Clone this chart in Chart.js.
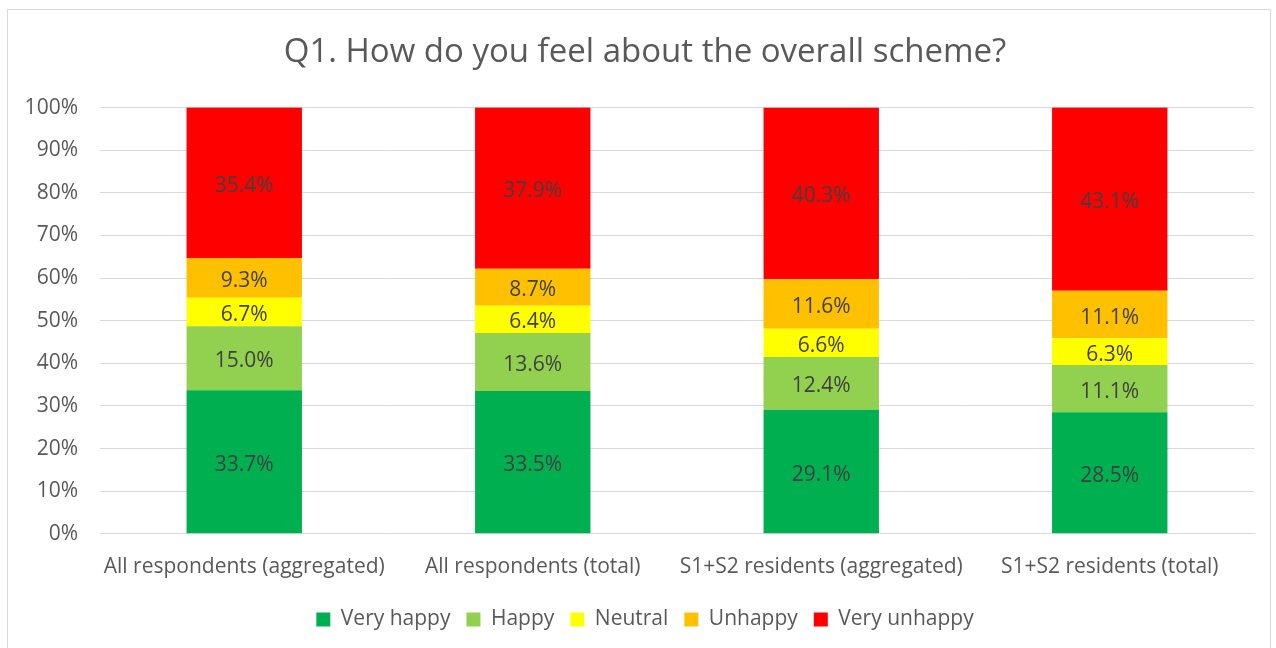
<!DOCTYPE html>
<html>
<head>
<meta charset="utf-8">
<script src="https://cdn.jsdelivr.net/npm/chart.js@4/dist/chart.umd.min.js"></script>
<style>
  html, body { margin: 0; padding: 0; background: #fff; }
  #wrap { position: relative; width: 1276px; height: 648px; }
  #frame { position: absolute; left: 7px; top: 9px; width: 1264px; height: 640px; border: 1px solid #d9d9d9; box-sizing: border-box; }
  canvas { position: absolute; left: 0; top: 0; }
</style>
</head>
<body>
<div id="wrap">
  <div id="frame"></div>
  <canvas id="myChart" width="1276" height="648"></canvas>
</div>
<script>
const categories = ['All respondents (aggregated)', 'All respondents (total)', 'S1+S2 residents (aggregated)', 'S1+S2 residents (total)'];
const veryHappy = [33.7, 33.5, 29.1, 28.5];
const happy = [15.0, 13.6, 12.4, 11.1];
const neutral = [6.7, 6.4, 6.6, 6.3];
const unhappy = [9.3, 8.7, 11.6, 11.1];
const veryUnhappy = [35.4, 37.9, 40.3, 43.1];
const yTicks = [0, 10, 20, 30, 40, 50, 60, 70, 80, 90, 100];

const FONT = '"Open Sans"';

// 막대 가운데에 값 표시
const barLabels = {
    id: 'barLabels',
    afterDatasetsDraw(chart) {
        const c = chart.ctx;
        c.save();
        c.font = '21px ' + FONT;
        c.fillStyle = '#404040';
        c.textAlign = 'center';
        c.textBaseline = 'middle';
        chart.data.datasets.forEach((ds, i) => {
            chart.getDatasetMeta(i).data.forEach((el, j) => {
                const p = el.getCenterPoint();
                c.fillText(ds.data[j].toFixed(1) + '%', p.x, p.y + 3);
            });
        });
        c.restore();
    }
};

// 제목/범례를 테두리 가운데 쪽으로 조금 이동
const centerShift = {
    id: 'centerShift',
    afterLayout(chart) {
        [chart.titleBlock, chart.legend].forEach(b => {
            if (b) { b.left += 18; b.right += 18; }
        });
    }
};

const ctx = document.getElementById('myChart').getContext('2d');
const myChart = new Chart(ctx, {
    type: 'bar',
    data: {
        labels: categories,
        datasets: [
            { label: 'Very happy', data: veryHappy, backgroundColor: '#00B050' },
            { label: 'Happy', data: happy, backgroundColor: '#92D050' },
            { label: 'Neutral', data: neutral, backgroundColor: '#FFFF00' },
            { label: 'Unhappy', data: unhappy, backgroundColor: '#FFC000' },
            { label: 'Very unhappy', data: veryUnhappy, backgroundColor: '#FF0000' }
        ]
    },
    options: {
        responsive: false,
        animation: false,
        layout: { padding: { left: 0, right: 22, top: 18, bottom: 8 } },
        datasets: { bar: { categoryPercentage: 1, barPercentage: 0.4 } },
        plugins: {
            title: {
                display: true,
                text: 'Q1. How do you feel about the overall scheme?',
                color: '#595959',
                font: { family: FONT, size: 33, weight: 'normal' },
                padding: { top: 15, bottom: 35 }
            },
            legend: {
                position: 'bottom',
                labels: {
                    color: '#595959',
                    font: { family: FONT, size: 21 },
                    boxWidth: 14,
                    boxHeight: 14,
                    padding: 16
                }
            },
            tooltip: { enabled: false }
        },
        scales: {
            x: {
                stacked: true,
                grid: { display: false },
                border: { display: true, color: '#d9d9d9' },
                ticks: { color: '#595959', font: { family: FONT, size: 21 }, padding: 13, maxRotation: 0 }
            },
            y: {
                stacked: true,
                min: 0,
                max: 100,
                afterFit(scale) { scale.width = 100; },
                afterBuildTicks(scale) { scale.ticks = yTicks.map(v => ({ value: v })); },
                grid: { color: '#d9d9d9', drawTicks: false },
                border: { display: false },
                ticks: { color: '#595959', font: { family: FONT, size: 21 }, padding: 22, callback: v => v + '%' }
            }
        }
    },
    plugins: [barLabels, centerShift]
});
</script>
</body>
</html>
